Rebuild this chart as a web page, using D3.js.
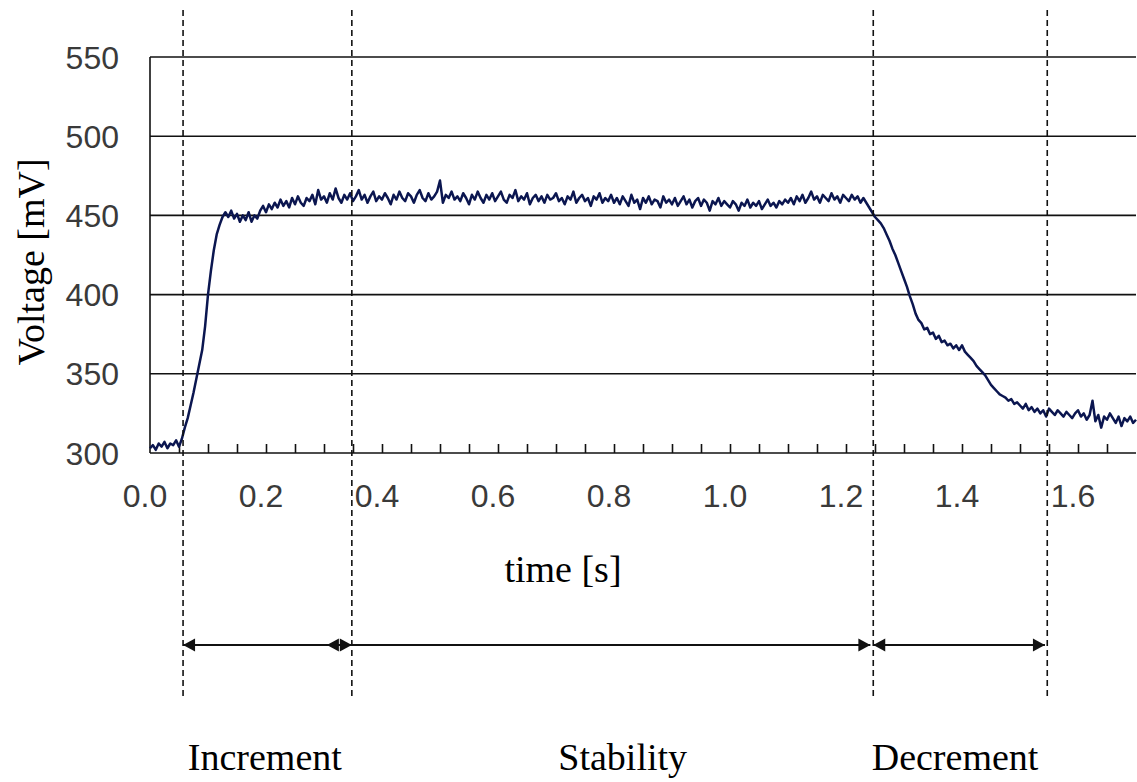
<!DOCTYPE html>
<html lang="en">
<head>
<meta charset="utf-8">
<title>Voltage [mV] vs time [s]</title>
<script src="https://cdn.jsdelivr.net/npm/d3@7"></script>
<style>
body { margin: 0; background: #fff; }
svg text.tick { font-family: "Liberation Sans", Arial, sans-serif; font-size: 32px; fill: #3a3a3a; }
svg text.lab { font-family: "Liberation Serif", "Times New Roman", serif; font-size: 38px; fill: #000; }
</style>
</head>
<body>
<script>

var dt = 0.005;
var voltage = [
  303,305,302,306,304,307,303,306,305,308,304,309,316,322,330,338,347,356,365,380,
  400,415,428,438,444,449,452,449,453,448,451,446,450,447,452,446,450,448,453,456,
  452,457,454,458,455,460,456,459,455,461,457,462,458,456,461,459,463,457,466,460,
  462,458,464,460,467,461,458,463,460,464,459,462,466,460,463,458,462,465,459,462,
  460,464,461,457,463,460,465,461,459,464,462,458,463,466,461,459,464,460,462,465,
  472,458,463,461,465,460,462,459,464,461,457,463,460,465,461,458,463,460,464,459,
  462,465,460,458,463,461,466,459,462,460,464,457,461,463,459,462,458,463,460,461,
  464,459,461,457,462,460,465,458,461,463,459,461,456,462,460,464,458,461,459,463,
  458,461,457,462,459,456,463,458,460,454,461,458,462,457,460,459,455,462,458,460,
  457,461,456,459,462,457,460,455,459,461,456,460,458,453,459,457,461,456,459,457,
  455,459,457,453,458,456,460,455,458,456,459,454,457,460,456,458,455,459,457,460,
  458,461,457,462,459,463,458,461,465,460,462,458,463,461,459,464,460,462,458,463,
  461,459,463,460,462,458,461,458,455,452,449,447,445,442,438,434,429,425,420,415,
  410,405,399,394,388,384,382,378,379,375,376,372,374,370,371,368,369,366,368,365,
  368,364,362,360,358,355,353,351,349,346,343,341,339,337,336,335,333,334,331,332,
  330,328,331,327,329,326,328,325,327,323,328,326,324,327,325,323,326,324,322,325,
  327,323,325,321,324,333,320,324,316,323,321,325,322,319,323,317,322,320,323,319,
  321
];

var yTicks = [300, 350, 400, 450, 500, 550];
var xLabels = [0.0, 0.2, 0.4, 0.6, 0.8, 1.0, 1.2, 1.4, 1.6];
var phaseLines = [0.057, 0.348, 1.247, 1.547];
var phaseNames = ["Increment", "Stability", "Decrement"];
var phaseFrom = [0.057, 0.305, 1.247];
var phaseTo = [0.348, 1.242, 1.543];
var phaseLabelAt = [0.198, 0.815, 1.388];

var W = 1137, H = 782;
var svg = d3.select("body").append("svg")
  .attr("width", W)
  .attr("height", H);

var x = d3.scaleLinear().domain([0, 1.7]).range([150, 1136]);
var y = d3.scaleLinear().domain([300, 550]).range([453, 57]);

// horizontal grid
svg.selectAll("line.grid")
  .data(yTicks)
  .enter().append("line")
  .attr("x1", x(0)).attr("x2", x(1.7))
  .attr("y1", function(d) { return y(d); })
  .attr("y2", function(d) { return y(d); })
  .style("stroke", "#111")
  .style("stroke-width", 1.6);

svg.append("line")
  .attr("x1", x(0)).attr("x2", x(0))
  .attr("y1", y(300)).attr("y2", y(550))
  .style("stroke", "#111").style("stroke-width", 1.6);

// x ticks every 0.05, pointing up
var xAxis = d3.axisTop(x)
  .tickValues(d3.range(1, 34).map(function(i) { return i * 0.05; }))
  .tickSize(9)
  .tickFormat("");
svg.append("g")
  .attr("transform", "translate(0," + y(300) + ")")
  .call(xAxis)
  .call(function(g) {
    g.select(".domain").remove();
    g.selectAll("line").style("stroke", "#111").style("stroke-width", 1.6);
  });

svg.selectAll("text.ylab")
  .data(yTicks)
  .enter().append("text")
  .attr("class", "tick")
  .attr("x", 119)
  .attr("y", function(d) { return y(d); })
  .attr("dy", "0.36em")
  .attr("text-anchor", "end")
  .text(function(d) { return d; });

svg.selectAll("text.xlab")
  .data(xLabels)
  .enter().append("text")
  .attr("class", "tick")
  .attr("x", function(d) { return x(d) - 5; })
  .attr("y", 507)
  .attr("text-anchor", "middle")
  .text(function(d) { return d.toFixed(1); });

// trace
var line = d3.line()
  .x(function(d, i) { return x(i * dt); })
  .y(function(d) { return y(d); });

svg.append("path")
  .datum(voltage)
  .attr("d", line)
  .style("fill", "none")
  .style("stroke", "#0b1650")
  .style("stroke-width", 2.5)
  .style("stroke-linejoin", "round");

// phase boundaries
svg.selectAll("line.phase")
  .data(phaseLines)
  .enter().append("line")
  .attr("x1", function(d) { return x(d); })
  .attr("x2", function(d) { return x(d); })
  .attr("y1", 10).attr("y2", 700)
  .style("stroke", "#111")
  .style("stroke-width", 1.6)
  .style("stroke-dasharray", "6,4");

// double headed arrows
var ay = 645, hl = 12, hw = 6.5;
phaseNames.forEach(function(name, i) {
  var a = x(phaseFrom[i]), b = x(phaseTo[i]);
  svg.append("line")
    .attr("x1", a).attr("x2", b)
    .attr("y1", ay).attr("y2", ay)
    .style("stroke", "#111").style("stroke-width", 2);
  svg.append("path")
    .attr("d", "M" + a + "," + ay + "L" + (a + hl) + "," + (ay - hw) + "L" + (a + hl) + "," + (ay + hw) + "Z")
    .style("fill", "#111");
  svg.append("path")
    .attr("d", "M" + b + "," + ay + "L" + (b - hl) + "," + (ay - hw) + "L" + (b - hl) + "," + (ay + hw) + "Z")
    .style("fill", "#111");
  svg.append("text")
    .attr("class", "lab")
    .attr("x", x(phaseLabelAt[i]))
    .attr("y", 770)
    .attr("text-anchor", "middle")
    .text(name);
});

svg.append("text")
  .attr("class", "lab")
  .attr("x", 563)
  .attr("y", 582)
  .attr("text-anchor", "middle")
  .text("time [s]");

svg.append("text")
  .attr("class", "lab")
  .attr("transform", "translate(44,262) rotate(-90)")
  .attr("text-anchor", "middle")
  .text("Voltage [mV]");

</script>
</body>
</html>
